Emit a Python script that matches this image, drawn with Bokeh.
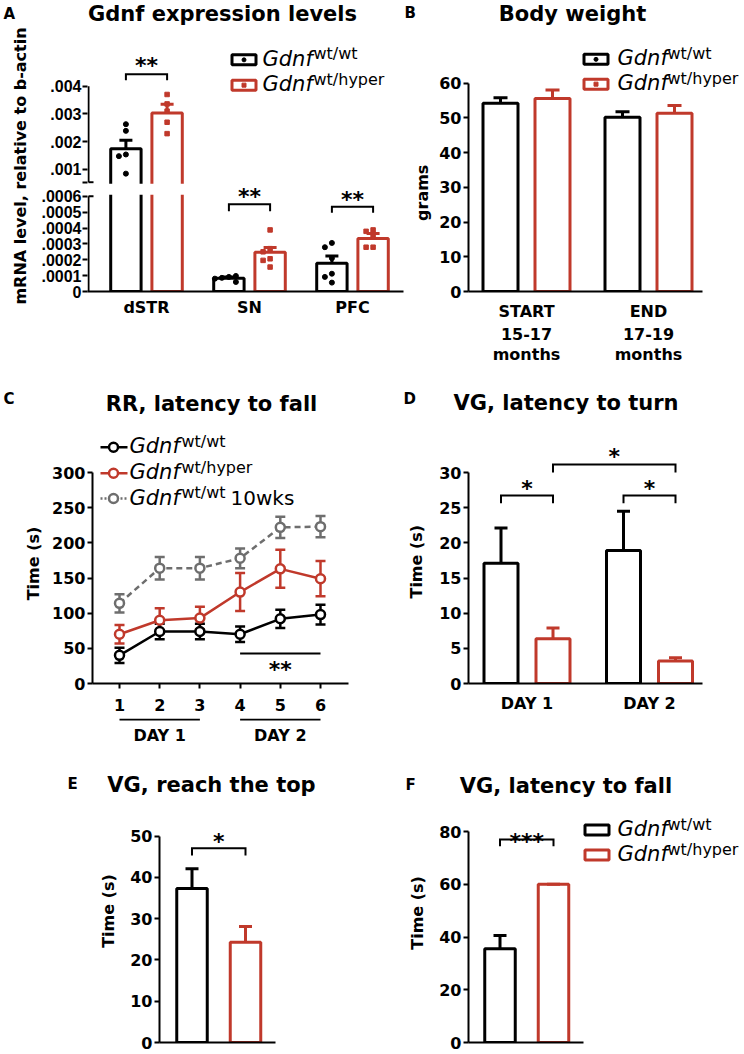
import math
import numpy as np
from bokeh.plotting import figure
from bokeh.layouts import column, row
from bokeh.models import (Range1d, FixedTicker, Label, BoxAnnotation, LinearAxis, Title,
                          ColumnDataSource, Whisker, TeeHead)
from bokeh.embed import file_html
from bokeh.resources import INLINE

# ---------------- data ----------------
# A  Gdnf expression levels (mRNA relative to b-actin)
a_regions = ["dSTR", "SN", "PFC"]
a_wt_mean = [0.00175, 0.000083, 0.000178]
a_wt_sem = [0.00030, 0.000008, 0.000045]
a_hyper_mean = [0.00303, 0.000247, 0.000334]
a_hyper_sem = [0.00032, 0.000030, 0.000032]
a_wt_points = [
    [0.00263, 0.00239, 0.00154, 0.00148, 0.00085],
    [0.000092, 0.000086, 0.000098, 0.000081, 0.000060],
    [0.000306, 0.000279, 0.000210, 0.000112, 0.000092, 0.000056],
]
a_hyper_points = [
    [0.00370, 0.00336, 0.00310, 0.00270, 0.00229],
    [0.000388, 0.000270, 0.000250, 0.000206, 0.000196, 0.000154],
    [0.000388, 0.000379, 0.000350, 0.000279, 0.000279],
]
a_ticks_low = [0, 0.0001, 0.0002, 0.0003, 0.0004, 0.0005, 0.0006]
a_labels_low = ["0", ".0001", ".0002", ".0003", ".0004", ".0005", ".0006"]
a_ticks_high = [0.001, 0.002, 0.003, 0.004]
a_labels_high = [".001", ".002", ".003", ".004"]
a_signif = ["**", "**", "**"]

# B  Body weight
b_times = ["START", "END"]
b_ages = ["15-17", "17-19"]
b_units = ["months", "months"]
b_wt_mean = [54.2, 50.2]
b_wt_sem = [1.6, 1.6]
b_hyper_mean = [55.6, 51.3]
b_hyper_sem = [2.4, 2.3]
b_ticks = [0, 10, 20, 30, 40, 50, 60]

# C  RR, latency to fall
c_trials = [1, 2, 3, 4, 5, 6]
c_wt = [40, 74, 74, 70, 92, 98]
c_wt_sem = [11, 11, 11, 11, 13, 14]
c_hyper = [70, 90, 93, 130, 163, 149]
c_hyper_sem = [13, 17, 16, 27, 27, 25]
c_young = [114, 164, 164, 178, 222, 223]
c_young_sem = [13, 16, 16, 14, 15, 15]
c_days = ["DAY 1", "DAY 2"]
c_day_trials = [[1, 3], [4, 6]]
c_ticks = [0, 50, 100, 150, 200, 250, 300]

# D  VG, latency to turn
d_days = ["DAY 1", "DAY 2"]
d_wt_mean = [17.1, 18.9]
d_wt_sem = [5.0, 5.6]
d_hyper_mean = [6.35, 3.2]
d_hyper_sem = [1.55, 0.45]
d_ticks = [0, 5, 10, 15, 20, 25, 30]

# E  VG, reach the top
e_wt_mean = [37.3]
e_wt_sem = [4.8]
e_hyper_mean = [24.3]
e_hyper_sem = [3.8]
e_ticks = [0, 10, 20, 30, 40, 50]

# F  VG, latency to fall
f_wt_mean = [35.5]
f_wt_sem = [5.1]
f_hyper_mean = [60.0]
f_hyper_sem = [0.0]
f_ticks = [0, 20, 40, 60, 80]

# ---------------- style ----------------
FONT = "DejaVu Sans"
RED = "#C0392B"
GREY = "#6E6E6E"
BLACK = "#000000"


def add_label(p, x, y, s, size, align="center", baseline="middle", style="bold",
              angle=0.0, color="black"):
    p.add_layout(Label(x=x, y=y, text=s, text_font=FONT, text_font_size=f"{size}px",
                       text_font_style=style, text_align=align, text_baseline=baseline,
                       angle=angle, text_color=color))


def style_axis(ax, size="16px", standoff=2, tick_out=5):
    ax.axis_line_width = 2
    ax.axis_line_color = "black"
    ax.major_tick_line_width = 2
    ax.major_tick_line_color = "black"
    ax.major_tick_out = tick_out
    ax.major_tick_in = 0
    ax.minor_tick_line_color = None
    ax.major_label_text_font = FONT
    ax.major_label_text_font_style = "bold"
    ax.major_label_text_font_size = size
    ax.major_label_text_color = "black"
    ax.major_label_standoff = standoff


class Strip:
    """A text-only canvas; y data = page pixels, x data via an optional mapping."""

    def __init__(self, canvas, fx=None):
        l, t, r, b = canvas
        self.fx = fx if fx is not None else (lambda px: px)
        p = figure(width=r - l, height=b - t,
                   x_range=Range1d(self.fx(l), self.fx(r)), y_range=Range1d(b, t),
                   min_border=0, x_axis_location=None, y_axis_location=None,
                   output_backend="svg", toolbar_location=None, title=None)
        p.outline_line_color = None
        p.background_fill_color = "white"
        p.border_fill_color = "white"
        for g in p.grid:
            g.visible = False
        self.p = p

    def text(self, s, px, py, size, **kw):
        add_label(self.p, self.fx(px), py, s, size, **kw)


class Panel:
    """canvas/frame are page-pixel boxes (left, top, right, bottom)."""

    def __init__(self, canvas, frame, x_origin, x_scale, y_origin, y_scale):
        cl, ct, cr, cb = canvas
        fl, ft, fr, fb = frame
        self.X = lambda px: (px - x_origin) / x_scale
        self.Y = lambda py: (y_origin - py) / y_scale
        p = figure(width=cr - cl, height=cb - ct,
                   x_range=Range1d(self.X(fl), self.X(fr)),
                   y_range=Range1d(self.Y(fb), self.Y(ft)),
                   min_border_left=fl - cl, min_border_right=cr - fr,
                   min_border_top=ft - ct, min_border_bottom=cb - fb,
                   output_backend="svg", toolbar_location=None, title=None)
        p.outline_line_color = None
        p.xgrid.visible = False
        p.ygrid.visible = False
        p.background_fill_color = "white"
        p.border_fill_color = "white"
        style_axis(p.xaxis[0])
        style_axis(p.yaxis[0])
        self.p = p

    def no_xlabels(self):
        self.p.xaxis.ticker = FixedTicker(ticks=[])
        self.p.xaxis.major_tick_out = 0
        self.p.xaxis.major_label_standoff = 0

    def text(self, s, px, py, size, **kw):
        add_label(self.p, self.X(px), self.Y(py), s, size, **kw)

    def stars(self, s, x, py):
        add_label(self.p, x, self.Y(py + 4), s, 22)

    def bars(self, x, top, width, color):
        self.p.vbar(x=x, top=top, bottom=0, width=width, fill_color="white",
                    line_color=color, line_width=3)

    def errors(self, x, lower, upper, color, head=13, lw=3, both=False, level="annotation"):
        src = ColumnDataSource(dict(x=list(x), lower=list(lower), upper=list(upper)))
        w = Whisker(source=src, base="x", lower="lower", upper="upper",
                    dimension="height", line_color=color, line_width=lw,
                    upper_head=TeeHead(size=head, line_color=color, line_width=lw),
                    lower_head=TeeHead(size=head, line_color=color, line_width=lw) if both else None,
                    level=level)
        self.p.add_layout(w)

    def bracket(self, x0, x1, py_top, py_leg):
        yt, yl = self.Y(py_top), self.Y(py_leg)
        self.p.multi_line(xs=[[x0, x0, x1, x1]], ys=[[yl, yt, yt, yl]],
                          line_color="black", line_width=2, line_join="miter")

    def legend_box(self, cx, cy, color, marker=None):
        self.p.rect(x=[self.X(cx)], y=[self.Y(cy)], width=24, height=10,
                    width_units="screen", height_units="screen",
                    fill_color="white", line_color=color, line_width=3)
        if marker:
            self.p.scatter(x=[self.X(cx)], y=[self.Y(cy)], marker=marker, size=4,
                           fill_color=color, line_color=color)

    def legend_text(self, x_txt, x_sup, cy, sup, size=21, sup_size=16):
        self.text("Gdnf", x_txt, cy - 1, size, align="left", style="italic")
        self.text(sup, x_sup, cy - 6, sup_size, align="left", style="normal")


def swarm(vals, step=7.0, thr=5.5):
    placed, offs = [], []
    for v in vals:
        o = 0.0
        for k in (0, -1, 1, -2, 2, -3, 3):
            o = k * step
            if all((o - po) ** 2 + (v - pv) ** 2 >= thr * thr for po, pv in placed):
                break
        placed.append((o, v))
        offs.append(o)
    return offs


# ================= headers =================
H1 = Strip((0, 0, 744, 28))
H1.text("A", 3, 13.3, 15, align="left")
H1.text("Gdnf expression levels", 222, 13, 21)
H1.text("B", 404, 12.5, 15, align="left")
H1.text("Body weight", 572, 13, 21)

H2 = Strip((0, 366, 744, 420))
H2.text("C", 3, 398, 15, align="left")
H2.text("RR, latency to fall", 211, 403, 21)
H2.text("D", 403, 398, 15, align="left")
H2.text("VG, latency to turn", 565.5, 402.5, 21)

H3 = Strip((0, 745, 744, 800))
H3.text("E", 67, 783.5, 15, align="left")
H3.text("VG, reach the top", 211, 784.5, 21)
H3.text("F", 405, 784, 15, align="left")
H3.text("VG, latency to fall", 565.5, 785, 21)

# ================= Panel A (broken y axis) =================
A_PX = 16.0          # pixels per display unit
D_BREAK = 6.875      # bottom of the upper axis segment (display units)
D_001 = 7.6875       # display position of .001
ROT_FIX = 9          # rotated labels inside the first-row frames render this much higher


def dA(v):
    v = np.asarray(v, dtype=float)
    return np.round(np.where(v <= 6e-4, v * 1e4, D_001 + (v - 1e-3) * 1750.0), 6)


A = Panel((0, 28, 434, 366), (87, 40, 434, 293), 146, 103, 293, A_PX)
pa = A.p
pa.yaxis.major_label_text_font = "Liberation Sans"
pa.yaxis.major_label_text_font_size = "16px"
pa.yaxis.major_label_standoff = 1
pa.add_layout(Title(text="mRNA level, relative to b-actin", align="center", offset=-22,
                    standoff=17, text_font=FONT, text_font_style="bold",
                    text_font_size="16px", text_color="black"), "left")
d_top = float(dA([a_ticks_high[-1]])[0])
d_low_top = float(dA([a_ticks_low[-1]])[0])
a_tick_vals = [float(t) for t in dA(a_ticks_low)] + [D_BREAK] + [float(t) for t in dA(a_ticks_high)]
a_over = {float(t): lab for t, lab in zip(dA(a_ticks_low), a_labels_low)}
a_over.update({float(t): lab for t, lab in zip(dA(a_ticks_high), a_labels_high)})
a_over[D_BREAK] = ""
pa.yaxis.ticker = FixedTicker(ticks=a_tick_vals)
pa.yaxis.major_label_overrides = a_over
pa.yaxis.bounds = (0, d_top)
pa.yaxis.axis_line_color = None
pa.xaxis.ticker = FixedTicker(ticks=[0, 1, 2])
pa.xaxis.major_label_overrides = {i: r for i, r in enumerate(a_regions)}
pa.xaxis.major_tick_line_color = None
pa.xaxis.major_tick_out = 0
pa.xaxis.major_label_standoff = 6
pa.xaxis.bounds = (A.X(87), A.X(403))
# broken axis rule (two segments) with break marks
xa = A.X(88)
pa.segment(x0=[xa, xa], y0=[0, D_BREAK], x1=[xa, xa], y1=[d_low_top, d_top],
           line_color="black", line_width=2)
pa.segment(x0=[xa, xa], y0=[d_low_top, D_BREAK], x1=[A.X(93), A.X(93)], y1=[d_low_top, D_BREAK],
           line_color="black", line_width=2)

A_OFF, A_W = 0.2, 0.295
gx = np.arange(len(a_regions))
A.bars(gx - A_OFF, dA(a_wt_mean), A_W, BLACK)
A.bars(gx + A_OFF, dA(a_hyper_mean), A_W, RED)
A.errors(gx - A_OFF, dA(a_wt_mean), dA(np.add(a_wt_mean, a_wt_sem)), BLACK)
A.errors(gx + A_OFF, dA(a_hyper_mean), dA(np.add(a_hyper_mean, a_hyper_sem)), RED)
for i in range(len(a_regions)):
    for pts, off, color, mk in ((a_wt_points[i], -A_OFF, BLACK, "circle"),
                                (a_hyper_points[i], A_OFF, RED, "square")):
        yd = dA(pts)
        offs = swarm(list(yd * A_PX))
        xs = [i + off + o / 103.0 for o in offs]
        pa.scatter(x=xs, y=list(yd), marker=mk, size=5 if mk == "circle" else 4.5,
                   fill_color=color, line_color=color)
# white band that breaks the dSTR bars
pa.add_layout(BoxAnnotation(left=A.X(87), right=A.X(403), bottom=A.Y(195.5), top=A.Y(184.5),
                            fill_color="white", fill_alpha=1.0, line_alpha=0.0))
for i, (pt, pl, ps) in enumerate(((74, 80, 61), (205, 212, 193), (207.5, 213.5, 196))):
    A.bracket(i - A_OFF, i + A_OFF, pt, pl)
    A.stars(a_signif[i], i, ps)
A.legend_box(243.5, 59.5, BLACK, "circle")
A.legend_box(243.5, 85, RED, "square")
A.legend_text(262, 313, 59.5, "wt/wt")
A.legend_text(262, 313, 85, "wt/hyper")
# y label of panel B sits in the free space at the right of A's frame
A.text("grams", 422, 184.5 + ROT_FIX, 16, angle=math.pi / 2)

# ================= Panel B =================
B = Panel((434, 28, 744, 366), (468, 40, 744, 293), 526, 122, 293, 3.5)
pb = B.p
pb.yaxis.ticker = FixedTicker(ticks=b_ticks)
pb.yaxis.bounds = (0, b_ticks[-1])
xb0 = pb.xaxis[0]
xb0.bounds = (B.X(468), B.X(702))
xb0.ticker = FixedTicker(ticks=[0, 1])
xb0.major_label_overrides = {i: t for i, t in enumerate(b_times)}
xb0.major_tick_line_color = None
xb0.major_tick_out = 0
xb0.major_label_standoff = 10
for labels, so in ((b_ages, 4), (b_units, 2)):
    ax = LinearAxis(ticker=FixedTicker(ticks=[0, 1]),
                    major_label_overrides={i: t for i, t in enumerate(labels)})
    style_axis(ax, standoff=so, tick_out=0)
    ax.axis_line_color = None
    ax.major_tick_line_color = None
    pb.add_layout(ax, "below")
B_OFF, B_W = 26 / 122, 35 / 122
bx = np.arange(len(b_times))
B.bars(bx - B_OFF, b_wt_mean, B_W, BLACK)
B.bars(bx + B_OFF, b_hyper_mean, B_W, RED)
B.errors(bx - B_OFF, b_wt_mean, np.add(b_wt_mean, b_wt_sem), BLACK, head=14)
B.errors(bx + B_OFF, b_hyper_mean, np.add(b_hyper_mean, b_hyper_sem), RED, head=14)
B.legend_box(595.5, 59, BLACK, "circle")
B.legend_box(595.5, 84, RED, "square")
B.legend_text(617, 667, 59, "wt/wt")
B.legend_text(617, 667, 84, "wt/hyper")

# ================= Panel C =================
SC = Strip((0, 420, 46, 718))
SC.text("Time (s)", 32.5, 582, 16, angle=math.pi / 2)

C = Panel((46, 420, 380, 718), (92, 420, 348, 683), 78.8, 40.2, 683, 211 / 300)
pc = C.p
pc.yaxis.ticker = FixedTicker(ticks=c_ticks)
pc.yaxis.bounds = (0, c_ticks[-1])
pc.xaxis.ticker = FixedTicker(ticks=c_trials)
pc.xaxis.major_label_standoff = 10
for vals, sem, color, dash in ((c_young, c_young_sem, GREY, "6 4"),
                               (c_hyper, c_hyper_sem, RED, "solid"),
                               (c_wt, c_wt_sem, BLACK, "solid")):
    C.errors(c_trials, np.subtract(vals, sem), np.add(vals, sem), color, head=10, lw=2.5,
             both=True, level="underlay")
    pc.line(c_trials, vals, line_color=color, line_width=2.5, line_dash=dash)
    pc.scatter(c_trials, vals, marker="circle", size=9, fill_color="white",
               line_color=color, line_width=2.5)
pc.segment(x0=[c_day_trials[1][0]], y0=[C.Y(653)], x1=[c_day_trials[1][1]], y1=[C.Y(653)],
           line_color="black", line_width=2)
C.stars("**", 5, 665)
for cy, color, dash, sup in ((446.7, BLACK, "solid", "wt/wt"),
                             (472.7, RED, "solid", "wt/hyper"),
                             (498.0, GREY, "2 2", "wt/wt")):
    pc.line([C.X(100), C.X(127)], [C.Y(cy), C.Y(cy)], line_color=color, line_width=2.5,
            line_dash=dash)
    pc.scatter([C.X(113)], [C.Y(cy)], marker="circle", size=9, fill_color="white",
               line_color=color, line_width=2.5)
    C.legend_text(129, 181, cy, sup)
C.text("10wks", 230, 497, 20, align="left", style="normal")

CS = Strip((0, 718, 380, 745), fx=C.X)
for (t0, t1), day in zip(c_day_trials, c_days):
    CS.p.segment(x0=[t0], y0=[719], x1=[t1], y1=[719], line_color="black", line_width=2)
    add_label(CS.p, (t0 + t1) / 2, 735, day, 16)

# ================= Panel D =================
SD = Strip((380, 420, 430, 718))
SD.text("Time (s)", 415.5, 580, 16, angle=math.pi / 2)

D = Panel((430, 420, 744, 718), (468, 420, 744, 683), 526.5, 122.5, 683, 211 / 30)
pdd = D.p
pdd.yaxis.ticker = FixedTicker(ticks=d_ticks)
pdd.yaxis.bounds = (0, d_ticks[-1])
pdd.xaxis.ticker = FixedTicker(ticks=[0, 1])
pdd.xaxis.major_label_overrides = {i: d for i, d in enumerate(d_days)}
pdd.xaxis.major_tick_line_color = None
pdd.xaxis.major_tick_out = 0
pdd.xaxis.major_label_standoff = 10
pdd.xaxis.bounds = (D.X(468), D.X(702))
D_OFF, D_W = 26 / 122.5, 34 / 122.5
dx = np.arange(len(d_days))
D.bars(dx - D_OFF, d_wt_mean, D_W, BLACK)
D.bars(dx + D_OFF, d_hyper_mean, D_W, RED)
D.errors(dx - D_OFF, d_wt_mean, np.add(d_wt_mean, d_wt_sem), BLACK)
D.errors(dx + D_OFF, d_hyper_mean, np.add(d_hyper_mean, d_hyper_sem), RED)
D.bracket(0 - D_OFF, 0 + D_OFF, 495, 502.7)
D.bracket(1 - D_OFF, 1 + D_OFF, 495, 502.7)
D.bracket(0 + D_OFF, 1 + D_OFF, 464, 472)
D.stars("*", 0, 484)
D.stars("*", 1, 484)
D.stars("*", 0.5 + D_OFF, 452)

# ================= Panel E =================
SE = Strip((0, 800, 118, 1054))
SE.text("Time (s)", 108, 916, 16, angle=math.pi / 2)

E = Panel((118, 800, 390, 1054), (159, 800, 275, 1042), 191.5, 53.5, 1042, 206.3 / 50)
pe = E.p
pe.yaxis.ticker = FixedTicker(ticks=e_ticks)
pe.yaxis.bounds = (0, e_ticks[-1])
E.no_xlabels()
E_W = 30.5 / 53.5
E.bars([0], e_wt_mean, E_W, BLACK)
E.bars([1], e_hyper_mean, E_W, RED)
E.errors([0], e_wt_mean, np.add(e_wt_mean, e_wt_sem), BLACK)
E.errors([1], e_hyper_mean, np.add(e_hyper_mean, e_hyper_sem), RED)
E.bracket(0, 1, 847.7, 855)
E.stars("*", 0.5, 837)

# ================= Panel F =================
SF = Strip((390, 800, 430, 1054))
SF.text("Time (s)", 416.5, 918, 16, angle=math.pi / 2)

F = Panel((430, 800, 744, 1054), (468, 800, 744, 1042), 499.5, 53.5, 1042, 211 / 80)
pf = F.p
pf.yaxis.ticker = FixedTicker(ticks=f_ticks)
pf.yaxis.bounds = (0, f_ticks[-1])
F.no_xlabels()
pf.xaxis.bounds = (F.X(468), F.X(583))
F.bars([0], f_wt_mean, E_W, BLACK)
F.bars([1], f_hyper_mean, E_W, RED)
F.errors([0], f_wt_mean, np.add(f_wt_mean, f_wt_sem), BLACK)
F.errors([1], f_hyper_mean, np.add(f_hyper_mean, f_hyper_sem), RED)
F.bracket(0, 1, 839, 845.7)
F.stars("***", 0.5, 837)
F.legend_box(596.5, 829.5, BLACK)
F.legend_box(596.5, 854.5, RED)
F.legend_text(617, 667, 829.5, "wt/wt")
F.legend_text(617, 667, 854.5, "wt/hyper")

layout = column(
    H1.p,
    row(A.p, B.p),
    H2.p,
    row(SC.p, C.p, SD.p, D.p),
    CS.p,
    H3.p,
    row(SE.p, E.p, SF.p, F.p),
)
open("out.html", "w").write(file_html(layout, INLINE))
